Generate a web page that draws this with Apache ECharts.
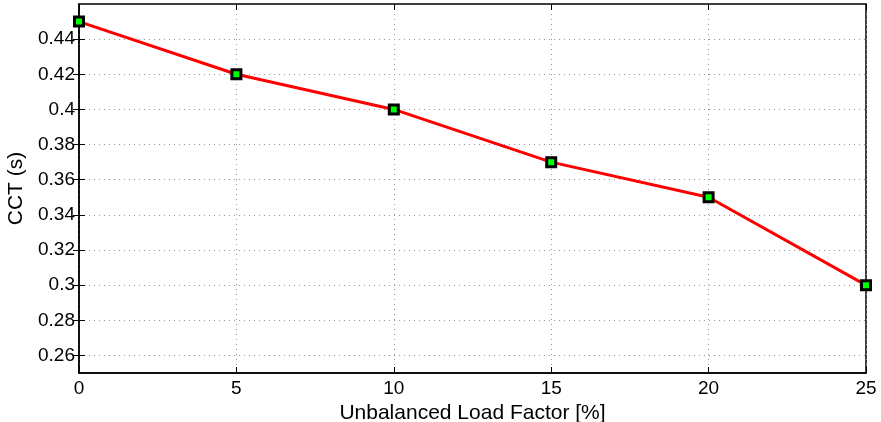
<!DOCTYPE html>
<html>
<head>
<meta charset="utf-8">
<script src="https://cdn.jsdelivr.net/npm/echarts@6/dist/echarts.min.js"></script>
<style>
  html, body { margin: 0; padding: 0; background: #fff; }
  #main { width: 881px; height: 422px; }
</style>
</head>
<body>
<div id="main"></div>
<script>
// data
var loadFactor = [0, 5, 10, 15, 20, 25];
var cct = [0.45, 0.42, 0.40, 0.37, 0.35, 0.30];
var yTicks = [0.26, 0.28, 0.30, 0.32, 0.34, 0.36, 0.38, 0.40, 0.42, 0.44];

var chart = echarts.init(document.getElementById('main'));

var pts = [];
for (var i = 0; i < loadFactor.length; i++) {
  pts.push([loadFactor[i], cct[i]]);
}

var font = 'Liberation Sans, Arial, sans-serif';

function fmtY(v) {
  return String(parseFloat(v.toFixed(2)));
}

var option = {
  animation: false,
  grid: {
    left: 79,
    right: 15,
    top: 4,
    bottom: 49,
    outerBoundsMode: 'none',
    containLabel: false,
    show: true,
    borderColor: '#000',
    borderWidth: 1.5
  },
  xAxis: [{
    type: 'value',
    min: 0,
    max: 25,
    interval: 5,
    name: 'Unbalanced Load Factor [%]',
    nameLocation: 'middle',
    nameGap: 24,
    nameTextStyle: { fontFamily: font, fontSize: 21, color: '#000' },
    axisLine: { lineStyle: { color: '#000', width: 1.5 } },
    axisTick: { inside: true, length: 6, lineStyle: { color: '#000' } },
    axisLabel: { fontFamily: font, fontSize: 19, color: '#000', margin: 6 },
    splitLine: { show: true, lineStyle: { color: '#999', type: [1, 4], width: 1 } }
  }, {
    type: 'value',
    position: 'top',
    min: 0,
    max: 25,
    interval: 5,
    axisLine: { show: false },
    axisTick: { inside: true, length: 6, lineStyle: { color: '#000' } },
    axisLabel: { show: false },
    splitLine: { show: false }
  }],
  yAxis: [{
    type: 'value',
    min: 0.25,
    max: 0.46,
    name: 'CCT (s)',
    nameLocation: 'middle',
    nameGap: 46,
    nameTextStyle: { fontFamily: font, fontSize: 21, color: '#000' },
    axisLine: { show: true, lineStyle: { color: '#000', width: 1.5 } },
    axisTick: { show: true, inside: true, length: 6, customValues: yTicks, lineStyle: { color: '#000' } },
    axisLabel: { fontFamily: font, fontSize: 19, color: '#000', margin: 4, customValues: yTicks, formatter: fmtY },
    splitLine: { show: true, lineStyle: { color: '#999', type: [1, 4], width: 1 } }
  }, {
    type: 'value',
    position: 'right',
    min: 0.25,
    max: 0.46,
    axisLine: { show: false },
    axisTick: { show: true, inside: true, length: 6, customValues: yTicks, lineStyle: { color: '#000' } },
    axisLabel: { show: false, customValues: yTicks },
    splitLine: { show: false }
  }],
  series: [{
    type: 'line',
    data: pts,
    symbol: 'rect',
    symbolSize: 9,
    lineStyle: { color: '#ff0000', width: 3 },
    itemStyle: { color: '#00ff00', borderColor: '#000', borderWidth: 3 },
    z: 5
  }]
};

chart.setOption(option);
</script>
</body>
</html>
